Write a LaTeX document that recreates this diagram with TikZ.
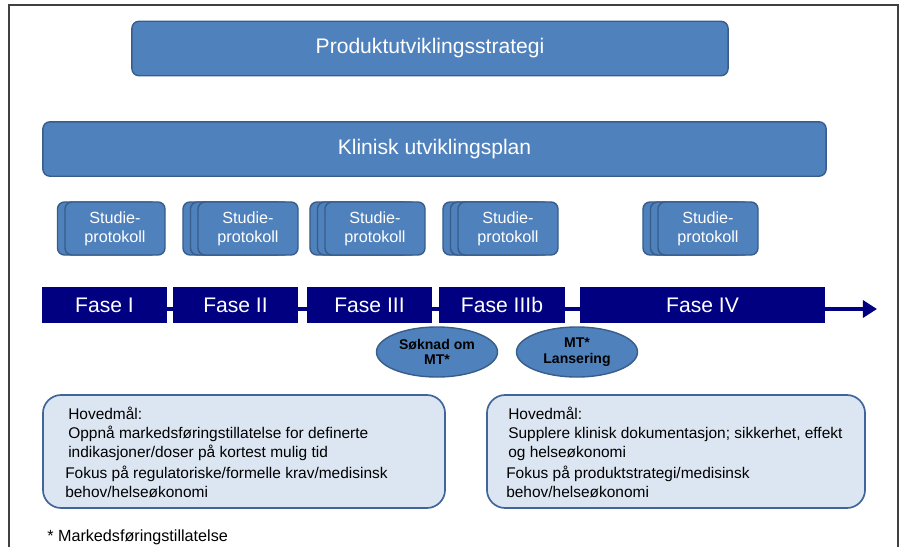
\documentclass[tikz,border=0pt]{standalone}
\usepackage{fontspec}
\setmainfont{Liberation Sans}
\usepackage{xcolor}
\usepackage{tikz}
\usetikzlibrary{arrows.meta, shapes.geometric, positioning}

\definecolor{stratblue}{HTML}{4F81BD}
\definecolor{stratedge}{HTML}{385D8A}
\definecolor{phaseblue}{HTML}{000080}
\definecolor{goalfill}{HTML}{DCE6F2}
\definecolor{goaledge}{HTML}{41659A}

\begin{document}
\begin{tikzpicture}[
  x=0.025cm, y=-0.025cm,
  bigbox/.style={rectangle, draw=stratedge, fill=stratblue, line width=1pt,
                 rounded corners=5pt, minimum height=1.36cm, text=white,
                 font=\fontsize{15}{18}\selectfont},
  protobox/.style={rectangle, draw=stratedge, fill=stratblue, line width=1pt,
                   rounded corners=5pt, minimum width=2.5cm, minimum height=1.325cm,
                   text=white, align=center, inner sep=0pt,
                   font=\fontsize{11.5}{13.5}\selectfont},
  phasebox/.style={rectangle, fill=phaseblue, minimum height=0.9cm, inner sep=0pt,
                   text=white, font=\fontsize{15}{18}\selectfont},
  milestone/.style={ellipse, draw=stratedge, fill=stratblue, line width=1pt,
                    minimum width=3.025cm, minimum height=1.25cm, inner sep=0pt,
                    align=center, font=\bfseries\fontsize{10}{11}\selectfont},
  goalbox/.style={rectangle, draw=goaledge, fill=goalfill, line width=1.2pt,
                  rounded corners=13pt, minimum height=2.825cm},
  goaltext/.style={anchor=north west, inner sep=0pt, align=left,
                   font=\fontsize{11}{13.5}\selectfont},
  timeline/.style={line width=2.5pt, phaseblue,
                   -{Triangle[length=10pt, width=12pt]}}
]
\useasboundingbox (0,0) rectangle (902,547);
\draw[black!75, line width=1.4pt] (9,547) -- (9,5) -- (898,5) -- (898,547);

% strategi og plan
\node[bigbox, minimum width=14.9cm]   (strat) at (430,48.5) {Produktutviklingsstrategi};
\node[bigbox, minimum width=19.575cm] (plan)  at (434.5,149) {Klinisk utviklingsplan};

% studieprotokoller (stablet)
\node[protobox] (p1b) at (107.5,228.5) {};
\node[protobox] (p1)  at (115,228.5)   {Studie-\\protokoll};
\node[protobox] (p2c) at (233,228.5)   {};
\node[protobox] (p2b) at (240.5,228.5) {};
\node[protobox] (p2)  at (248,228.5)   {Studie-\\protokoll};
\node[protobox] (p3c) at (360,228.5)   {};
\node[protobox] (p3b) at (367.5,228.5) {};
\node[protobox] (p3)  at (375,228.5)   {Studie-\\protokoll};
\node[protobox] (p4c) at (493,228.5)   {};
\node[protobox] (p4b) at (500.5,228.5) {};
\node[protobox] (p4)  at (508,228.5)   {Studie-\\protokoll};
\node[protobox] (p5c) at (693,228.5)   {};
\node[protobox] (p5b) at (700.5,228.5) {};
\node[protobox] (p5)  at (708,228.5)   {Studie-\\protokoll};

% faser
\coordinate (start) at (42,309);
\coordinate (tip)   at (877,309);
\draw[timeline] (start) -- (tip);
\node[phasebox, minimum width=3.125cm] (f1)  at (104.5,305) {Fase I};
\node[phasebox, minimum width=3.125cm] (f2)  at (235.5,305) {Fase II};
\node[phasebox, minimum width=3.125cm] (f3)  at (369.5,305) {Fase III};
\node[phasebox, minimum width=3.15cm]  (f3b) at (502,305)   {Fase IIIb};
\node[phasebox, minimum width=6.125cm] (f4)  at (702.5,305) {Fase IV};

% milepaeler
\node[milestone] (soknad) at (437,352) {Søknad om\\MT*};
\node[milestone] (lans)   at (577,352) {MT*\\Lansering};

% maal
\node[goalbox, minimum width=10.05cm] (goal1) at (244,451.5) {};
\node[goalbox, minimum width=9.45cm]  (goal2) at (676,451.5) {};
\node[goaltext] (g1a) at (68,407) {Hovedmål:\\Oppnå markedsføringstillatelse for definerte\\indikasjoner/doser på kortest mulig tid};
\node[goaltext] (g1b) at (65,466) {Fokus på regulatoriske/formelle krav/medisinsk\\behov/helseøkonomi};
\node[goaltext] (g2a) at (508,407) {Hovedmål:\\Supplere klinisk dokumentasjon; sikkerhet, effekt\\og helseøkonomi};
\node[goaltext] (g2b) at (506,466) {Fokus på produktstrategi/medisinsk\\behov/helseøkonomi};

\node[anchor=west, inner sep=0pt, font=\fontsize{11.5}{13.5}\selectfont] (fotnote) at (47,537) {* Markedsføringstillatelse};
\end{tikzpicture}
\end{document}
